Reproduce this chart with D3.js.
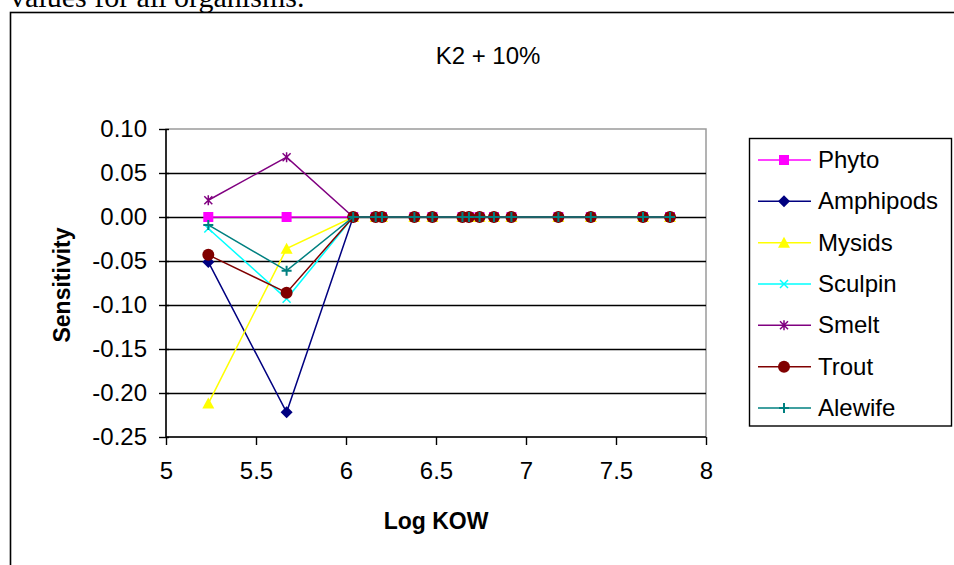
<!DOCTYPE html>
<html lang="en">
<head>
    <meta charset="UTF-8">
    <title>K2 + 10%</title>
    <script src="https://cdn.jsdelivr.net/npm/d3@7"></script>
    <style>
        body {
            margin: 0;
            background: #fff;
        }
        text {
            font-family: "Liberation Sans", Arial, sans-serif;
            fill: #000;
        }
        .lbl {
            font-size: 24px;
        }
        .axis-title {
            font-size: 23px;
            font-weight: bold;
        }
    </style>
</head>
<body>
<div id="svgcontainer"></div>
<script>
    const width = 954;
    const height = 565;

    // chart data
    const logKow = [5.235, 5.67, 6.04, 6.165, 6.2, 6.38, 6.48, 6.647, 6.683, 6.742, 6.822, 6.919, 7.18, 7.36, 7.65, 7.8];
    const phyto = [0, 0, 0, 0, 0, 0, 0, 0, 0, 0, 0, 0, 0, 0, 0, 0];
    const amphipods = [-0.051, -0.222, 0, 0, 0, 0, 0, 0, 0, 0, 0, 0, 0, 0, 0, 0];
    const mysids = [-0.212, -0.036, 0, 0, 0, 0, 0, 0, 0, 0, 0, 0, 0, 0, 0, 0];
    const sculpin = [-0.013, -0.093, 0, 0, 0, 0, 0, 0, 0, 0, 0, 0, 0, 0, 0, 0];
    const smelt = [0.019, 0.068, 0, 0, 0, 0, 0, 0, 0, 0, 0, 0, 0, 0, 0, 0];
    const trout = [-0.043, -0.086, 0, 0, 0, 0, 0, 0, 0, 0, 0, 0, 0, 0, 0, 0];
    const alewife = [-0.009, -0.061, 0, 0, 0, 0, 0, 0, 0, 0, 0, 0, 0, 0, 0, 0];

    const yTicks = [0.10, 0.05, 0.00, -0.05, -0.10, -0.15, -0.20, -0.25];
    const xTicks = [5, 5.5, 6, 6.5, 7, 7.5, 8];

    const series = [
        {name: "Phyto", values: phyto, color: "#ff00ff", marker: "square"},
        {name: "Amphipods", values: amphipods, color: "#000080", marker: "diamond"},
        {name: "Mysids", values: mysids, color: "#ffff00", marker: "triangle"},
        {name: "Sculpin", values: sculpin, color: "#00ffff", marker: "x"},
        {name: "Smelt", values: smelt, color: "#800080", marker: "star"},
        {name: "Trout", values: trout, color: "#800000", marker: "circle"},
        {name: "Alewife", values: alewife, color: "#008080", marker: "plus"}
    ];

    const PLOT_LEFT = 166;
    const PLOT_RIGHT = 706;
    const PLOT_TOP = 129;
    const PLOT_BOTTOM = 437;

    const svg = d3.select("#svgcontainer")
        .append("svg")
        .attr("width", width)
        .attr("height", height);

    // line of document text above the chart, cut by the top edge as in the page
    svg.append("text")
        .attr("x", 10)
        .attr("y", 7)
        .style("font-family", "'Liberation Serif', 'Times New Roman', serif")
        .style("font-size", "30px")
        .text("values for all organisms.");

    // chart frame
    svg.append("rect")
        .attr("x", 10.5)
        .attr("y", 12.5)
        .attr("width", width + 20)
        .attr("height", height + 20)
        .attr("fill", "#fff")
        .attr("stroke", "#000")
        .attr("stroke-width", 1.6);

    svg.append("text")
        .attr("class", "lbl")
        .attr("x", 488)
        .attr("y", 64)
        .attr("text-anchor", "middle")
        .text("K2 + 10%");

    const x = d3.scaleLinear().domain([5, 8]).range([PLOT_LEFT, PLOT_RIGHT]);
    const y = d3.scaleLinear().domain([-0.25, 0.10]).range([PLOT_BOTTOM, PLOT_TOP]);

    // plot area border
    svg.append("rect")
        .attr("x", PLOT_LEFT)
        .attr("y", y(0.10))
        .attr("width", PLOT_RIGHT - PLOT_LEFT)
        .attr("height", PLOT_BOTTOM - y(0.10))
        .attr("fill", "none")
        .attr("stroke", "#9a9a9a")
        .attr("stroke-width", 1.5);

    // gridlines
    svg.append("g")
        .selectAll("line")
        .data(yTicks.filter(function (d) { return d < 0.1 && d > -0.25; }))
        .enter()
        .append("line")
        .attr("x1", PLOT_LEFT)
        .attr("x2", PLOT_RIGHT)
        .attr("y1", function (d) { return Math.round(y(d)) + 0.5; })
        .attr("y2", function (d) { return Math.round(y(d)) + 0.5; })
        .attr("stroke", "#000")
        .attr("stroke-width", 1.4);

    // axes
    const yAxis = d3.axisLeft(y)
        .tickValues(yTicks)
        .tickSize(7)
        .tickPadding(12)
        .tickFormat(d3.format(".2f"));
    const yG = svg.append("g")
        .attr("transform", "translate(" + PLOT_LEFT + ",0)")
        .call(yAxis);
    yG.selectAll(".tick line").attr("x2", -7).attr("x1", 3).attr("stroke-width", 1.4);
    yG.select(".domain").attr("d", "M0," + PLOT_TOP + "V" + PLOT_BOTTOM).attr("stroke-width", 1.5);
    yG.selectAll("text")
        .attr("class", "lbl")
        .style("font-family", "'Liberation Sans', Arial, sans-serif")
        .text(function (d) { return d3.format(".2f")(d).replace("−", "-"); });

    const xAxis = d3.axisBottom(x)
        .tickValues(xTicks)
        .tickSize(8)
        .tickPadding(17)
        .tickFormat(function (d) { return String(d); });
    const xG = svg.append("g")
        .attr("transform", "translate(0," + PLOT_BOTTOM + ")")
        .call(xAxis);
    xG.select(".domain").attr("d", "M" + PLOT_LEFT + ",0H" + PLOT_RIGHT).attr("stroke-width", 1.5);
    xG.selectAll(".tick line").attr("stroke-width", 1.4);
    xG.selectAll("text")
        .attr("class", "lbl")
        .style("font-family", "'Liberation Sans', Arial, sans-serif");
    svg.selectAll(".tick text").attr("fill", "#000");
    svg.selectAll(".domain, .tick line").attr("stroke", "#000");

    svg.append("text")
        .attr("class", "axis-title")
        .attr("x", 436)
        .attr("y", 529)
        .attr("text-anchor", "middle")
        .text("Log KOW");

    svg.append("text")
        .attr("class", "axis-title")
        .attr("transform", "translate(70,285) rotate(-90)")
        .attr("text-anchor", "middle")
        .text("Sensitivity");

    function drawMarker(g, type, color) {
        if (type === "square") {
            g.append("rect").attr("x", -5).attr("y", -5).attr("width", 10).attr("height", 10)
                .attr("fill", color);
        } else if (type === "diamond") {
            g.append("path").attr("d", "M0,-6L6,0L0,6L-6,0Z").attr("fill", color);
        } else if (type === "triangle") {
            g.append("path").attr("d", "M0,-6L6,5L-6,5Z").attr("fill", color);
        } else if (type === "circle") {
            g.append("circle").attr("r", 6).attr("fill", color);
        } else if (type === "x") {
            g.append("path").attr("d", "M-4,-4L4,4M-4,4L4,-4")
                .attr("stroke", color).attr("stroke-width", 1.5);
        } else if (type === "star") {
            g.append("path").attr("d", "M-4,-4L4,4M-4,4L4,-4M0,-5V5")
                .attr("stroke", color).attr("stroke-width", 1.5);
        } else if (type === "plus") {
            g.append("path").attr("d", "M-5,0H5M0,-5V5")
                .attr("stroke", color).attr("stroke-width", 2);
        }
    }

    const line = d3.line()
        .x(function (d) { return x(d[0]); })
        .y(function (d) { return y(d[1]); });

    series.forEach(function (s) {
        const pts = logKow.map(function (k, i) { return [k, s.values[i]]; });
        const g = svg.append("g").attr("class", "series");
        g.append("path")
            .datum(pts)
            .attr("d", line)
            .attr("fill", "none")
            .attr("stroke", s.color)
            .attr("stroke-width", 1.5);
        pts.forEach(function (p) {
            const m = g.append("g")
                .attr("transform", "translate(" + x(p[0]) + "," + y(p[1]) + ")");
            drawMarker(m, s.marker, s.color);
        });
    });

    // legend
    const legend = svg.append("g");
    legend.append("rect")
        .attr("x", 749.5)
        .attr("y", 138.5)
        .attr("width", 202)
        .attr("height", 287.5)
        .attr("fill", "#fff")
        .attr("stroke", "#000")
        .attr("stroke-width", 1.4);

    const legendY = d3.scalePoint()
        .domain(series.map(function (s) { return s.name; }))
        .range([160, 408]);

    series.forEach(function (s) {
        const ly = legendY(s.name);
        legend.append("line")
            .attr("x1", 758).attr("x2", 811)
            .attr("y1", ly).attr("y2", ly)
            .attr("stroke", s.color)
            .attr("stroke-width", 1.5);
        const m = legend.append("g").attr("transform", "translate(784," + ly + ")");
        drawMarker(m, s.marker, s.color);
        legend.append("text")
            .attr("class", "lbl")
            .attr("x", 818)
            .attr("y", ly + 8)
            .text(s.name);
    });
</script>
</body>
</html>
